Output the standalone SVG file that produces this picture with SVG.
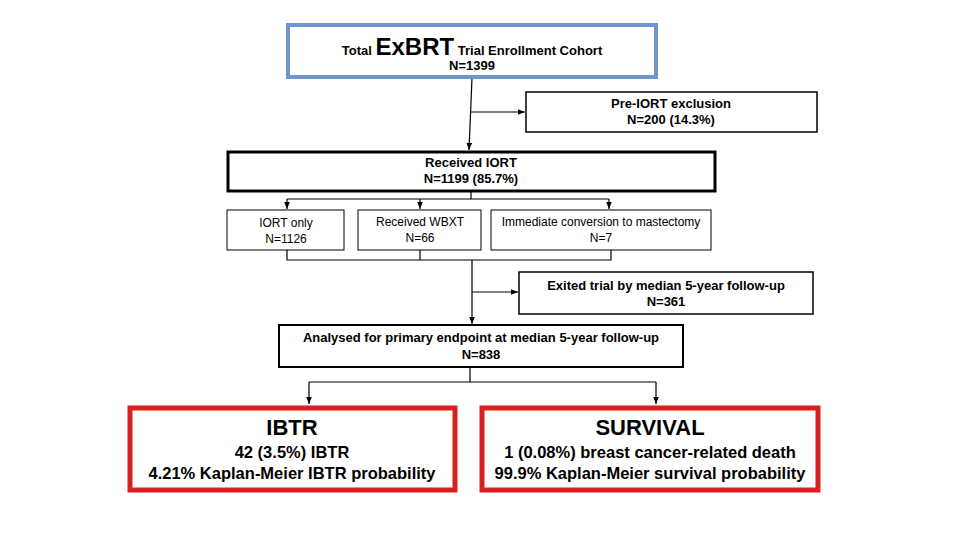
<svg xmlns="http://www.w3.org/2000/svg" width="960" height="540" viewBox="0 0 960 540">
<style>
text{font-family:"Liberation Sans",Arial,sans-serif;text-anchor:middle;fill:#000}
.b{font-weight:bold;font-size:13px}
.s{font-size:12px}
.big{font-weight:bold;font-size:22px}
.r{font-weight:bold;font-size:16.5px}
.ln{stroke:#000;stroke-width:1.2;fill:none}
</style>
<defs><marker id="a" viewBox="0 0 10 10" refX="10" refY="5" markerWidth="6" markerHeight="6" orient="auto"><path d="M0,1L10,5L0,9z" fill="#000"/></marker></defs>
<rect width="960" height="540" fill="#fff"/>
<g id="connectors">
<path class="ln" d="M472,78L469,150" marker-end="url(#a)"/>
<path class="ln" d="M471,112H525" marker-end="url(#a)"/>
<path class="ln" d="M471,191V199M287,199H609"/>
<path class="ln" d="M287,199V209" marker-end="url(#a)"/>
<path class="ln" d="M420,199V209" marker-end="url(#a)"/>
<path class="ln" d="M609,199V209" marker-end="url(#a)"/>
<path class="ln" d="M287,250V260H611V250M420,250V260"/>
<path class="ln" d="M472,260V324" marker-end="url(#a)"/>
<path class="ln" d="M472,292H518" marker-end="url(#a)"/>
<path class="ln" d="M470,367V382M309,382H656"/>
<path class="ln" d="M309,382V404" marker-end="url(#a)"/>
<path class="ln" d="M656,382V404" marker-end="url(#a)"/>
</g>
<g id="total"><rect x="288" y="25" width="368" height="52" fill="#fff" stroke="#6f95d1" stroke-width="4"/>
<text x="472" y="55" class="b">Total <tspan font-size="24">ExBRT</tspan> Trial Enrollment Cohort</text><text x="472" y="70" class="b">N=1399</text></g>
<g id="pre"><rect x="526" y="92" width="291" height="40" fill="#fff" stroke="#000" stroke-width="1.5"/>
<text x="671" y="108" class="b">Pre-IORT exclusion</text><text x="671" y="124" class="b">N=200 (14.3%)</text></g>
<g id="iort"><rect x="228" y="152" width="487" height="39" fill="#fff" stroke="#000" stroke-width="3"/>
<text x="471" y="167" class="b" font-size="12">Received IORT</text><text x="471" y="183" class="b" font-size="12">N=1199 (85.7%)</text></g>
<g id="only"><rect x="227" y="210" width="117" height="40" fill="#fff" stroke="#000"/>
<text x="286" y="227" class="s">IORT only</text><text x="286" y="243" class="s">N=1126</text></g>
<g id="wbxt"><rect x="358" y="210" width="123" height="40" fill="#fff" stroke="#000"/>
<text x="420" y="226" class="s">Received WBXT</text><text x="420" y="242" class="s">N=66</text></g>
<g id="mast"><rect x="491" y="210" width="220" height="40" fill="#fff" stroke="#000"/>
<text x="601" y="226" class="s">Immediate conversion to mastectomy</text><text x="601" y="242" class="s">N=7</text></g>
<g id="exit"><rect x="519" y="272" width="294" height="42" fill="#fff" stroke="#000" stroke-width="1.5"/>
<text x="666" y="290" class="b">Exited trial by median 5-year follow-up</text><text x="666" y="306" class="b">N=361</text></g>
<g id="anal"><rect x="279" y="325" width="404" height="42" fill="#fff" stroke="#000" stroke-width="2"/>
<text x="481" y="342" class="b">Analysed for primary endpoint at median 5-year follow-up</text><text x="481" y="359" class="b">N=838</text></g>
<g id="ibtr"><rect x="130" y="408" width="325" height="82" fill="#fff" stroke="#d9201f" stroke-width="5"/>
<text x="292" y="435" class="big">IBTR</text><text x="292" y="458" class="r">42 (3.5%) IBTR</text><text x="292" y="479" class="r">4.21% Kaplan-Meier IBTR probability</text></g>
<g id="surv"><rect x="482" y="408" width="336" height="82" fill="#fff" stroke="#d9201f" stroke-width="5"/>
<text x="650" y="435" class="big">SURVIVAL</text><text x="650" y="458" class="r">1 (0.08%) breast cancer-related death</text><text x="650" y="479" class="r">99.9% Kaplan-Meier survival probability</text></g>
</svg>
